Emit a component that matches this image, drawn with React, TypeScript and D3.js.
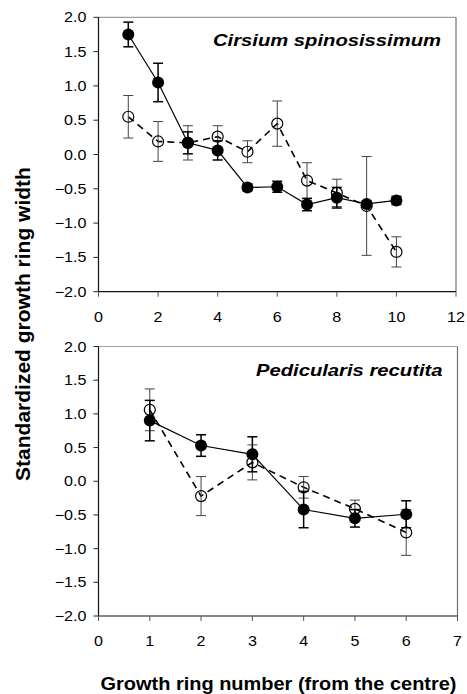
import * as d3 from "d3";

// Cirsium spinosissimum (top panel)
const cirsRings = [1, 2, 3, 4, 5, 6, 7, 8, 9, 10];
const cirsFilled = [1.75, 1.05, 0.17, 0.06, -0.48, -0.47, -0.73, -0.63, -0.72, -0.67];
const cirsFilledErr = [0.18, 0.28, 0.16, 0.14, 0.05, 0.08, 0.09, 0.15, 0.04, 0.06];
const cirsOpen = [0.55, 0.19, 0.17, 0.26, 0.04, 0.45, -0.38, -0.56, -0.75, -1.42];
const cirsOpenErr = [0.31, 0.29, 0.25, 0.16, 0.16, 0.33, 0.26, 0.2, 0.72, 0.22];

// Pedicularis recutita (bottom panel)
const pedRings = [1, 2, 3, 4, 5, 6];
const pedFilled = [0.9, 0.53, 0.4, -0.42, -0.55, -0.49];
const pedFilledErr = [0.3, 0.16, 0.26, 0.27, 0.13, 0.2];
const pedOpen = [1.06, -0.22, 0.28, -0.09, -0.41, -0.76];
const pedOpenErr = [0.31, 0.29, 0.26, 0.16, 0.13, 0.34];

const yTicks = [-2, -1.5, -1, -0.5, 0, 0.5, 1, 1.5, 2];
const cirsXTicks = [0, 2, 4, 6, 8, 10, 12];
const pedXTicks = [0, 1, 2, 3, 4, 5, 6, 7];

const W = 467;
const H = 694;
const FONT = "'Liberation Sans', Arial, Helvetica, sans-serif";

type Pt = { x: number; y: number; e: number };

function STxt(props: {
  x: number;
  y: number;
  sx: number;
  size: number;
  anchor?: string;
  weight?: string;
  italic?: boolean;
  children: string;
}) {
  return (
    <text
      transform={`translate(${props.x},${props.y}) scale(${props.sx},1)`}
      textAnchor={props.anchor || "start"}
      fontSize={props.size}
      fontWeight={props.weight || "normal"}
      fontStyle={props.italic ? "italic" : "normal"}
      fontFamily={FONT}
      fill="#000"
    >
      {props.children}
    </text>
  );
}

function Panel(props: {
  title: string;
  rings: number[];
  filled: number[];
  filledErr: number[];
  open: number[];
  openErr: number[];
  xMax: number;
  xTicks: number[];
  top: number;
  bottom: number;
  left: number;
  right: number;
}) {
  const { top, bottom, left, right } = props;
  const x = d3.scaleLinear().domain([0, props.xMax]).range([left, right]);
  const y = d3.scaleLinear().domain([-2, 2]).range([bottom, top]);

  const filledPts: Pt[] = props.rings.map((r, i) => ({ x: r, y: props.filled[i], e: props.filledErr[i] }));
  const openPts: Pt[] = props.rings.map((r, i) => ({ x: r, y: props.open[i], e: props.openErr[i] }));

  const line = d3
    .line<Pt>()
    .x((d) => x(d.x))
    .y((d) => y(d.y));

  const errBars = (pts: Pt[], color: string, w: number) =>
    pts.map((d, i) => (
      <g key={i} stroke={color} strokeWidth={w}>
        <line x1={x(d.x)} x2={x(d.x)} y1={y(d.y + d.e)} y2={y(d.y - d.e)} />
        <line x1={x(d.x) - 5} x2={x(d.x) + 5} y1={y(d.y + d.e)} y2={y(d.y + d.e)} />
        <line x1={x(d.x) - 5} x2={x(d.x) + 5} y1={y(d.y - d.e)} y2={y(d.y - d.e)} />
      </g>
    ));

  return (
    <g>
      {/* frame */}
      <line x1={left} x2={right} y1={top} y2={top} stroke="#a0a0a0" strokeWidth={1.2} />
      <line x1={right} x2={right} y1={top} y2={bottom} stroke="#707070" strokeWidth={1.2} />
      <line x1={left} x2={left} y1={top} y2={bottom} stroke="#111" strokeWidth={1.2} />
      <line x1={left} x2={right} y1={bottom} y2={bottom} stroke="#111" strokeWidth={1.2} />

      {/* y axis */}
      {yTicks.map((t) => (
        <g key={t}>
          <line x1={left - 5} x2={left} y1={y(t)} y2={y(t)} stroke="#222" strokeWidth={1} />
          <STxt x={left - 12} y={y(t) + 5} sx={1.15} size={14} anchor="end">
            {d3.format(".1f")(t)}
          </STxt>
        </g>
      ))}

      {/* x axis */}
      {props.xTicks.map((t) => (
        <g key={t}>
          <line x1={x(t)} x2={x(t)} y1={bottom} y2={bottom + 5} stroke="#555" strokeWidth={1} />
          <STxt x={x(t)} y={bottom + 30} sx={1.15} size={14} anchor="middle">
            {String(t)}
          </STxt>
        </g>
      ))}

      <STxt x={right - 15} y={top + 29} sx={1.19} size={17} anchor="end" weight="bold" italic>
        {props.title}
      </STxt>

      {/* open series */}
      <path d={line(openPts) || ""} fill="none" stroke="#000" strokeWidth={1.6} strokeDasharray="7,5" />
      {errBars(openPts, "#444", 1)}
      {openPts.map((d, i) => (
        <circle key={i} cx={x(d.x)} cy={y(d.y)} r={5.5} fill="none" stroke="#000" strokeWidth={1.2} />
      ))}

      {/* filled series */}
      <path d={line(filledPts) || ""} fill="none" stroke="#000" strokeWidth={1.2} />
      {errBars(filledPts, "#000", 1.5)}
      {filledPts.map((d, i) => (
        <circle key={i} cx={x(d.x)} cy={y(d.y)} r={6} fill="#000" />
      ))}
    </g>
  );
}

export default function App() {
  return (
    <svg
      width={W}
      height={H}
      style={{ position: "absolute", left: 0, top: 0, background: "#fff" }}
    >
      <rect width={W} height={H} fill="#fff" />
      <Panel
        title="Cirsium spinosissimum"
        rings={cirsRings}
        filled={cirsFilled}
        filledErr={cirsFilledErr}
        open={cirsOpen}
        openErr={cirsOpenErr}
        xMax={12}
        xTicks={cirsXTicks}
        top={17.3}
        bottom={291.7}
        left={98.5}
        right={456}
      />
      <Panel
        title="Pedicularis recutita"
        rings={pedRings}
        filled={pedFilled}
        filledErr={pedFilledErr}
        open={pedOpen}
        openErr={pedOpenErr}
        xMax={7}
        xTicks={pedXTicks}
        top={346.5}
        bottom={616}
        left={98.5}
        right={457.5}
      />
      <text
        transform="translate(30,324) rotate(-90)"
        textAnchor="middle"
        fontSize={21}
        fontWeight="bold"
        fontFamily={FONT}
      >
        Standardized growth ring width
      </text>
      <STxt x={278.5} y={690} sx={1.11} size={18} anchor="middle" weight="bold">
        Growth ring number (from the centre)
      </STxt>
    </svg>
  );
}
